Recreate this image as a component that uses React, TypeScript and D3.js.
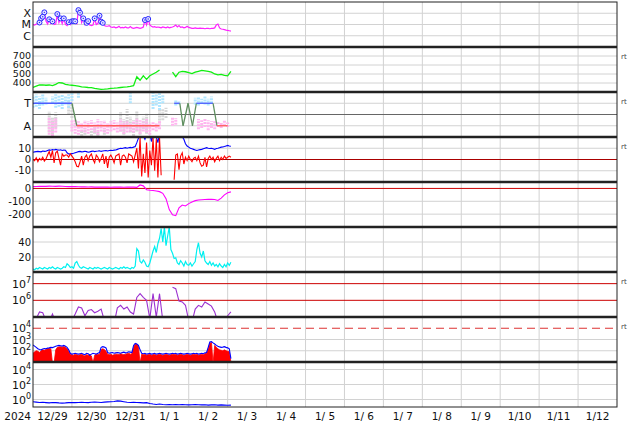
import React from "react";
import * as d3 from "d3";

// ---------- time axis ----------
const START = Date.UTC(2024, 11, 29);
const HOUR = 3600e3;
const NDAYS = 15;
const yearLabel = "2024";
const dayLabels = ["12/29", "12/30", "12/31", "1/ 1", "1/ 2", "1/ 3", "1/ 4", "1/ 5", "1/ 6", "1/ 7", "1/ 8", "1/ 9", "1/10", "1/11", "1/12"];

// ---------- panel 1: X-ray flux (hourly, W/m2) ----------
const xrayClassLabels = ["X", "M", "C"];
const xrayClassValues = [1e-4, 1e-5, 1e-6];
const xray = [
  1.0e-5, 9e-6, 1.1e-5, 1.2e-5, 1.5e-5, 3.5e-5, 4.9e-5, 1.2e-4, 2.0e-5, 1.1e-5, 2.9e-5, 1.2e-5,
  1.9e-5, 1.0e-5, 1.1e-5, 8.5e-5, 1.5e-5, 3.5e-5, 1.2e-5, 3.5e-5, 1.0e-5, 8e-6, 1.6e-5, 1.0e-5,
  1.9e-5, 2.0e-5, 1.9e-5, 1.2e-5, 1.9e-4, 1.1e-4, 1.5e-5, 3.5e-5, 1.0e-5, 1.4e-5, 2.0e-5, 9e-6,
  8e-6, 9e-6, 3.5e-5, 1.0e-5, 1.2e-5, 6e-5, 1.8e-5, 1.4e-5, 8e-6, 7e-6, 7e-6, 8e-6,
  6e-6, 5.5e-6, 6e-6, 5e-6, 5.5e-6, 7e-6, 5e-6, 5.5e-6, 5e-6, 6e-6, 5e-6, 5e-6, 6.5e-6, 5e-6,
  4.5e-6, 5e-6, 5.5e-6, 5e-6, 4.5e-6, 5e-6, 6e-6,
  2.5e-5, 9e-6, 3.1e-5, 9e-6,
  7e-6, 6e-6, 6.5e-6, 5.5e-6, 6e-6, 5.5e-6, 5e-6, 6e-6, 5.5e-6, 5e-6, 6e-6, 5e-6, 5.5e-6, 6e-6, 7e-6, 9e-6, 6e-6, 8e-6,
  5.5e-6, 6e-6, 5e-6, 5.5e-6, 7e-6, 5.5e-6, 5e-6, 4.5e-6, 4.5e-6, 5e-6, 4.5e-6, 4.5e-6, 4.8e-6, 4.5e-6, 4.5e-6, 4.2e-6,
  4.5e-6, 4.5e-6, 4.2e-6, 4.5e-6, 4.5e-6, 5e-6, 9e-6, 1.1e-5, 5e-6, 4e-6, 3.8e-6, 3.5e-6, 3.2e-6, 3e-6, 2.8e-6, 2.6e-6,
];
const flareHours = [4, 5, 6, 7, 10, 12, 15, 17, 19, 22, 24, 25, 26, 28, 29, 31, 33, 34, 38, 41, 42, 43, 69, 71];
const flareFlux = [1.5e-5, 3.5e-5, 4.9e-5, 1.2e-4, 2.9e-5, 1.9e-5, 8.5e-5, 3.5e-5, 3.5e-5, 1.6e-5, 1.9e-5, 2.0e-5, 1.9e-5, 1.9e-4, 1.1e-4, 3.5e-5, 1.4e-5, 2.0e-5, 3.5e-5, 6e-5, 1.8e-5, 1.4e-5, 2.5e-5, 3.1e-5];

// ---------- panel 2: solar wind speed (2-hourly, km/s) ----------
const speedTicks = [400, 500, 600, 700];
const speed = [
  352, 365, 378, 380, 375, 378, 372, 385, 405, 400, 385, 378, 375, 372, 365, 358, 355, 350, 348, 340,
  335, 330, 332, 335, 340, 342, 345, 350, 355, 358, 362, 370, 470, 430, 480, 440, 480, 500, 520, 545,
  null, null, null, 520, 470, 520, 530, 525, 515, 505, 520, 530, 540, 535, 530, 520, 500, 490, 495, 485, 480, 530,
];

// ---------- panel 3: IMF sector ----------
const sectorLabels = ["T", "A"];
const sectorValues = [1, -1];
// [hour, lo, hi]
const towardScatter = [
  [0, 0.6, 1.7], [2, 0.7, 1.8], [4, 0.5, 1.6], [6, 0.8, 1.8], [8, 0.9, 1.5], [12, 1.0, 1.6], [14, 0.6, 1.8],
  [16, 0.7, 1.7], [18, 0.5, 1.8], [20, 0.9, 1.7], [22, 0.6, 1.8], [24, 1.2, 1.9], [28, 1.5, 1.9], [60, 1.0, 1.9],
  [74, 0.5, 1.9], [76, 0.8, 1.8], [78, 0.4, 1.9], [80, 1.0, 1.8], [88, 0.8, 1.3], [90, 0.9, 1.2],
  [100, 0.9, 1.5], [102, 0.8, 1.6], [104, 1.0, 1.4], [106, 0.9, 1.7], [108, 0.8, 1.4], [110, 1.0, 1.6],
];
const awayScatter = [
  [10, -1.8, -0.2], [12, -1.9, -0.5], [14, -1.6, -0.3], [24, -1.5, -0.5], [26, -1.7, -0.4], [28, -1.8, -0.6],
  [30, -1.5, -0.7], [32, -1.6, -0.5], [34, -1.7, -0.6], [36, -1.4, -0.5], [38, -1.6, -0.7], [40, -1.8, -0.4],
  [42, -1.5, -0.6], [44, -1.6, -0.5], [46, -1.7, -0.8], [48, -1.5, -0.6], [50, -1.4, -0.5], [52, -1.6, -0.7],
  [54, -1.5, -0.4], [56, -1.7, -0.6], [58, -1.6, -0.5], [60, -1.5, -0.8], [62, -1.6, -0.6], [64, -1.4, -0.3],
  [66, -1.7, -0.5], [68, -1.5, -0.6], [70, -1.6, -0.4], [72, -1.8, -0.7], [74, -1.4, -0.6], [76, -1.5, -0.8],
  [78, -1.3, -0.6], [86, -1.0, -0.2], [88, -0.9, -0.3], [102, -1.3, -0.4], [104, -1.2, -0.5], [106, -1.1, -0.4],
  [108, -1.4, -0.5], [110, -1.2, -0.6], [112, -1.3, -0.5], [114, -1.1, -0.6], [116, -1.2, -0.7], [118, -1.0, -0.5],
  [120, -1.1, -0.7],
];
const mixedScatter = [
  [10, -1.6, 0.3], [12, -1.8, -0.2], [14, -1.2, 0.2], [22, 0.0, 1.2], [24, -0.3, 1.0], [30, -1.9, -1.4],
  [32, -1.8, -1.2], [36, -1.9, -1.3], [38, -1.7, -1.1], [40, -1.9, -1.5], [44, -1.8, -1.2], [54, -1.5, 0.2],
  [56, -1.8, -0.4], [58, -1.2, 0.5], [60, -1.6, -0.2], [62, -1.9, -0.5], [64, -1.5, 0.3], [66, -1.8, -0.9],
  [68, -1.3, -0.2], [70, -1.7, 0.1], [78, -0.8, 0.4], [80, -0.5, 0.5], [82, -0.3, 0.6],
];
const sectorLineA = [[0, 1], [24, 1], [27, -1], [78, -1]];
const sectorLineB = [[87, 1], [90.5, 1], [92.5, -1], [95.6, 1], [98.3, -1], [100.7, 1], [111, 1], [113.4, -1], [120, -1]];

// ---------- panel 4: IMF Bt / Bz (hourly, nT) ----------
const bTicks = [10, 0, -10];
const bt = [
  6.5, 6.8, 7, 7.2, 7, 6.8, 7.5, 7.2, 7.4,
  8, 8.5, 8.2, 8.8, 8.5, 9, 8.6, 8.3, 8.7, 8, 8.4, 8.2,
  6, 5, 4.8, 5.2, 5.5, 6, 6.5,
  7, 7.2, 6.8, 7, 7.3, 7, 6.5, 6.8, 7.2, 7.5, 7, 7.3, 7.5, 7.8, 7.2, 7.5, 7.8, 8, 7.6, 8, 8.2, 8, 8.3, 8.5,
  9, 9.5, 10, 9.8, 10.2, 10.5, 10, 10.4, 10.8, 10.5, 11, 11.5,
  15, 19, 22, 24, 21, 18, 22, 25, 24, 16, 22, 25, 20, 15, 24, 22,
  null, null, null, null, null, null, null,
  22, 24, 23, 21, 22, 20, 18,
  14, 12, 11, 10, 9.5, 9,
  8.5, 8, 8.4, 8.8, 9, 9.5, 10, 10.5, 10, 9.8,
  10, 9.5, 9, 9.8, 10, 10.5, 11, 11.2, 11.5, 12, 12.5, 12, 11.8,
];
const bz = [
  0, -1, 1.5, -2, 1, -0.5, 2, -1.5, 0.5,
  4, 7, 2, 8, -3, 6, 7.5, 1, -5, 5, 3, 4,
  4, 2, 5, 3, 1, -2, -6,
  -6.5, -2, 3, -5, 2, 4, -1, 3, 5, 0, -3, 4, 2, -2, 1, 5, -4, 3, -7.5, 2, 4, 1, -3, 3,
  4, 5, -5, 3, 4, 2, -3, 5, 4, 3, -2, 4,
  10, -8, 19, -15, 5, -12, 15, -16, 8, -5, 19, -10, 18, -16, 19, -14,
  null, null, null, null, null, null, null,
  -18, 4, 5, -9, 3, 6, -4,
  2, -1, 3, 0, -2, 1,
  2, -1, 3, -3, -6, -5, 2, -6.5, 1, 3,
  0, 2, -2, 1, 3, -1, 2, 0, 3, 1, 2, 3, 2,
];

// ---------- panel 5: Dst (2-hourly, nT) ----------
const dstTicks = [0, -100, -200];
const dst = [
  14, 15, 16, 17, 16, 18, 17, 16, 18, 17, 15, 14, 15, 14, 13, 12, 12, 11, 12, 10,
  11, 10, 11, 10, 9, 10, 11, 10, 9, 10, 11, 10, 8, 27, 20, -10, -14, -16, -20, -25,
  -38, -80, -165, -205, -212, -150, -129, -136, -118, -105, -95, -90, -88, -86, -85, -84,
  -86, -94, -75, -50, -33, -27,
];

// ---------- panel 6: proton density (hourly, /cc) ----------
const densTicks = [40, 20];
const dens = [
  4, 3, 5, 4, 6, 5, 4, 6, 5,
  4, 6, 5, 7, 5, 4, 6, 5, 4, 5, 7, 6,
  11, 9, 6, 7, 5, 12, 14,
  9, 6, 5, 7, 6, 5, 4, 6, 5, 4, 6, 5, 6, 5, 4, 5, 6, 5, 4, 6, 5, 4, 5, 6,
  5, 4, 6, 5, 7, 5, 6, 5, 4, 6, 5, 8,
  31, 28, 14, 12, 16, 13, 8, 7, 12, 20, 28, 34, 26, 38, 45, 58,
  40, 60, 35, 48, 60, 30, 25,
  18, 19, 12, 10, 15, 12, 8,
  14, 10, 9, 12, 8, 11,
  14, 30, 39, 25, 20, 28, 15, 12, 10, 14,
  9, 12, 8, 10, 7, 11, 8, 6, 10, 7, 12, 9, 13,
];

// ---------- panel 7: >2MeV electron flux (2-hourly) ----------
const electronTickExps = [7, 6];
const electronLines = [1e7, 1e6];
const electron = [
  5e4, 8e4, 2e5, 1.8e5, 6e4, 5e4, 1.5e5, 5e4, 4e4, 4e4, 4e4, 5e4, 6e4, 1.5e5, 4e5, 3.5e5, 1.2e5, 2.5e5, 2.8e5, 1.8e5,
  2.2e5, 3e5, 6e4, 5e4, 5e4, 4e4, 3.5e5, 5e5, 3e5, 4e5, 2e5, 1.5e5, 1.5e6, 2.5e6, 1.5e6, 1e6, 8e4, 2.5e6, 1e5, 2.5e6,
  6e4, null, null, 6e6, 5e6, 9e5, 8e5, 5e5, 6e4, 5e4, 3e5, 5e5, 4e5, 8e5, 6e5, 4.5e5, 2e5, 5e4, 4e4, 4e4, 1.2e5, 2e5,
];

// ---------- panel 8: particle flux (hourly) ----------
const p8TickExps = [4, 3, 2];
const p8Threshold = 1e4;
const p8Blue = [
  320, 260, 200, 150, 130, 120, 140, 160, 150,
  170, 180, 200, 190, 220, 250, 280, 300, 280, 260, 300, 250,
  200, 120, 60, 50, 55, 60, 55,
  50, 55, 60, 50, 45, 60, 55, 40, 50, 60, 55, 50, 60, 70, 200, 230, 210, 180, 70, 60, 65, 70, 60, 65,
  70, 65, 60, 70, 75, 65, 70, 80, 75, 70, 300, 450,
  400, 300, 120, 60, 55, 60, 50, 55, 60, 50, 55, 60, 50, 55, 60, 55,
  50, 55, 60, 55, 50, 55, 60,
  55, 60, 50, 55, 60, 55, 50,
  55, 60, 55, 50, 55, 60,
  55, 60, 50, 55, 60, 55, 65, 70, 200, 600,
  650, 500, 400, 300, 250, 220, 200, 210, 230, 200, 180, 150, 20,
];
const p8Red = [
  60, 80, 100, 90, 70, 100, 120, 110, 130,
  150, 160, 150, 8, 8, 120, 200, 220, 230, 210, 240, 200,
  150, 90, 50, 45, 40, 50, 45,
  40, 45, 50, 40, 35, 45, 40, 45, 35, 8, 40, 50, 45, 50, 120, 150, 130, 90, 50, 45, 50, 40, 45, 50,
  50, 45, 55, 50, 45, 50, 55, 60, 50, 55, 200, 380,
  400, 250, 8, 50, 45, 50, 40, 45, 50, 40, 45, 50, 40, 45, 50, 45,
  40, 45, 50, 45, 40, 45, 50,
  45, 50, 40, 45, 50, 45, 40,
  45, 50, 45, 40, 45, 50,
  45, 50, 40, 45, 50, 45, 55, 60, 150, 450,
  550, 8, 300, 200, 150, 120, 110, 100, 120, 100, 90, 80, 10,
];

// ---------- panel 9: proton flux (2-hourly) ----------
const p9TickExps = [4, 2, 0];
const p9 = [
  0.5, 0.45, 0.4, 0.42, 0.38, 0.35, 0.4, 0.38, 0.35, 0.33, 0.35, 0.38, 0.4, 0.38, 0.4,
  0.42, 0.4, 0.38, 0.42, 0.45, 0.42, 0.4, 0.45, 0.48, 0.5, 0.55, 0.65, 0.6, 0.5, 0.42,
  0.4, 0.42, 0.4, 0.38, 0.35, 0.38, 0.3,
  0.25, 0.22, 0.25, 0.22, 0.2, 0.22, 0.2, 0.21, 0.2, 0.22, 0.2, 0.19, 0.2, 0.21, 0.2, 0.19, 0.2, 0.18, 0.19, 0.2, 0.18, 0.19, 0.18, 0.17, 0.18,
];

const rtPanels = [1, 2, 3, 6, 7];

// ---------- layout ----------
const L = 33, R = 617, TOP = 2, PH = 45;
const pTop = (i: number) => TOP + i * PH;
const FONT = "DejaVu Sans";

const tAt = (h: number) => new Date(START + h * HOUR);
const x = d3.scaleUtc().domain([tAt(0), tAt(NDAYS * 24)]).range([L, R]);
const series = (arr: (number | null)[], step: number) => arr.map((v, i) => ({ t: tAt(i * step), v }));

const y1 = d3.scaleLog().domain([1e-7, 1e-3]).range([pTop(1), pTop(0)]);
const y2 = d3.scaleLinear().domain([300, 800]).range([pTop(2), pTop(1)]);
const y3 = d3.scaleLinear().domain([-2, 2]).range([pTop(3), pTop(2)]);
const y4 = d3.scaleLinear().domain([-20, 20]).range([pTop(4), pTop(3)]);
const y5 = d3.scaleLinear().domain([-300, 50]).range([pTop(5), pTop(4)]);
const y6 = d3.scaleLinear().domain([0, 60]).range([pTop(6), pTop(5)]);
const y7 = d3.scaleLog().domain([1e5, 5e7]).range([pTop(7), pTop(6)]);
const y8 = d3.scaleLog().domain([10, 1e5]).range([pTop(8), pTop(7)]);
const y9 = d3.scaleLog().domain([0.1, 1e5]).range([pTop(9), pTop(8)]);

function mkLine(ys: any) {
  return d3.line<any>().defined((d) => d.v != null).x((d) => x(d.t)).y((d) => ys(d.v));
}

function Pow({ y, e }: { y: number; e: number }) {
  return (
    <text x={31} y={y + 4} textAnchor="end" fontSize={11} fill="#111">
      10<tspan fontSize={8} dy={-5}>{e}</tspan>
    </text>
  );
}
function Lab({ y, s, size = 10 }: { y: number; s: string | number; size?: number }) {
  return (
    <text x={31} y={y + size * 0.36} textAnchor="end" fontSize={size} fill="#111">{s}</text>
  );
}

export default function App() {
  const days = d3.range(NDAYS + 1).map((d) => tAt(d * 24));
  const grid = "#d2d2d2";
  const hLine = (y: number, key: string, color = grid, dash?: string, w = 1) => (
    <line key={key} x1={L} x2={R} y1={y} y2={y} stroke={color} strokeWidth={w} strokeDasharray={dash} />
  );

  const clipIds = d3.range(9).map((i) => `clip${i}`);
  const sectorSegs: any[] = [];
  [sectorLineA, sectorLineB].forEach((ln, k) => {
    for (let i = 0; i < ln.length - 1; i++) {
      const a = ln[i], b = ln[i + 1];
      const col = a[1] === b[1] ? (a[1] > 0 ? "#4a5cff" : "#ff5a5a") : "#5f8f5f";
      sectorSegs.push(
        <line key={`s${k}-${i}`} x1={x(tAt(a[0]))} x2={x(tAt(b[0]))} y1={y3(a[1])} y2={y3(b[1])} stroke={col} strokeWidth={1.3} />
      );
    }
  });
  const scatter = (arr: number[][], color: string, key: string) =>
    arr.map((d, i) => (
      <line key={`${key}${i}`} x1={x(tAt(d[0]))} x2={x(tAt(d[0]))} y1={y3(d[1])} y2={y3(d[2])}
        stroke={color} strokeWidth={3} strokeDasharray="2 1" />
    ));

  const redArea = d3.area<any>().x((d) => x(d.t)).y0(pTop(8)).y1((d) => y8(d.v));

  return (
    <svg width={634} height={424} style={{ position: "absolute", left: 0, top: 0, background: "#fff" }} fontFamily={FONT}>
      <defs>
        {clipIds.map((id, i) => (
          <clipPath key={id} id={id}>
            <rect x={L} y={pTop(i)} width={R - L} height={PH} />
          </clipPath>
        ))}
      </defs>
      <rect x={0} y={0} width={634} height={424} fill="#fff" />

      {/* vertical grid */}
      {days.slice(1, -1).map((d, i) => (
        <line key={`vg${i}`} x1={x(d)} x2={x(d)} y1={TOP} y2={pTop(9)} stroke={grid} strokeWidth={1} />
      ))}

      {/* horizontal grid */}
      {xrayClassValues.map((v, i) => hLine(y1(v), `g1${i}`))}
      {speedTicks.map((v, i) => hLine(y2(v), `g2${i}`))}
      {sectorValues.map((v, i) => hLine(y3(v), `g3${i}`))}
      {bTicks.filter((v) => v !== 0).map((v, i) => hLine(y4(v), `g4${i}`))}
      {dstTicks.filter((v) => v !== 0).map((v, i) => hLine(y5(v), `g5${i}`))}
      {densTicks.map((v, i) => hLine(y6(v), `g6${i}`))}
      {p8TickExps.filter((e) => e !== 4).map((e, i) => hLine(y8(Math.pow(10, e)), `g8${i}`))}
      {p9TickExps.map((e, i) => hLine(y9(Math.pow(10, e)), `g9${i}`))}

      {/* panel 1 */}
      <g clipPath="url(#clip0)">
        <path d={mkLine(y1)(series(xray, 1)) || ""} fill="none" stroke="#ff22ff" strokeWidth={1.2} />
        {flareHours.map((h, i) => (
          <g key={`f${i}`}>
            <circle cx={x(tAt(h))} cy={y1(flareFlux[i])} r={2.5} fill="#e4e4ff" stroke="#2a2aff" strokeWidth={1} />
            <circle cx={x(tAt(h))} cy={y1(flareFlux[i])} r={0.7} fill="#2a2aff" />
          </g>
        ))}
      </g>

      {/* panel 2 */}
      <g clipPath="url(#clip1)">
        <path d={mkLine(y2)(series(speed, 2)) || ""} fill="none" stroke="#11ee11" strokeWidth={1.3} />
      </g>

      {/* panel 3 */}
      <g clipPath="url(#clip2)">
        {scatter(mixedScatter, "#d6d6d6", "m")}
        {scatter(awayScatter, "#ffb6ef", "a")}
        {scatter(towardScatter, "#b0e6ff", "t")}
        <line x1={L} x2={R} y1={y3(0)} y2={y3(0)} stroke="#666" strokeWidth={1} />
        {sectorSegs}
      </g>

      {/* panel 4 */}
      <g clipPath="url(#clip3)">
        <line x1={L} x2={R} y1={y4(0)} y2={y4(0)} stroke="#aa0000" strokeWidth={1} />
        <path d={mkLine(y4)(series(bt, 1)) || ""} fill="none" stroke="#0000ff" strokeWidth={1.1} />
        <path d={mkLine(y4)(series(bz, 1)) || ""} fill="none" stroke="#ff0000" strokeWidth={1.1} />
      </g>

      {/* panel 5 */}
      <g clipPath="url(#clip4)">
        <line x1={L} x2={R} y1={y5(0)} y2={y5(0)} stroke="#cc0000" strokeWidth={1} />
        <path d={mkLine(y5)(series(dst, 2)) || ""} fill="none" stroke="#ff00ff" strokeWidth={1.1} />
      </g>

      {/* panel 6 */}
      <g clipPath="url(#clip5)">
        <path d={mkLine(y6)(series(dens, 1)) || ""} fill="none" stroke="#00f0f0" strokeWidth={1.2} />
      </g>

      {/* panel 7 */}
      <g clipPath="url(#clip6)">
        {electronLines.map((v, i) => hLine(y7(v), `e${i}`, "#cc0000"))}
        <path d={mkLine(y7)(series(electron, 2)) || ""} fill="none" stroke="#9b30d0" strokeWidth={1.1} />
      </g>

      {/* panel 8 */}
      <g clipPath="url(#clip7)">
        {hLine(y8(p8Threshold), "thr", "#dd3333", "8 5", 1.2)}
        <path d={redArea(series(p8Red, 1)) || ""} fill="#ff0000" stroke="#ff0000" strokeWidth={0.8} />
        <path d={mkLine(y8)(series(p8Blue, 1)) || ""} fill="none" stroke="#0000ff" strokeWidth={1.1} />
      </g>

      {/* panel 9 */}
      <g clipPath="url(#clip8)">
        <path d={mkLine(y9)(series(p9, 2)) || ""} fill="none" stroke="#0000ff" strokeWidth={1.1} />
      </g>

      {/* separators and frame */}
      {d3.range(1, 9).map((i) => (
        <line key={`sep${i}`} x1={L} x2={R} y1={pTop(i)} y2={pTop(i)} stroke="#222" strokeWidth={2.5} />
      ))}
      <rect x={L} y={TOP} width={R - L} height={PH * 9} fill="none" stroke="#222" strokeWidth={1} />

      {/* y labels */}
      {xrayClassLabels.map((s, i) => <Lab key={`l1${i}`} y={y1(xrayClassValues[i])} s={s} size={11} />)}
      {speedTicks.map((v, i) => <Lab key={`l2${i}`} y={y2(v)} s={v} size={9.5} />)}
      {sectorLabels.map((s, i) => <Lab key={`l3${i}`} y={y3(sectorValues[i])} s={s} size={11} />)}
      {bTicks.map((v, i) => <Lab key={`l4${i}`} y={y4(v)} s={v} />)}
      {dstTicks.map((v, i) => <Lab key={`l5${i}`} y={y5(v)} s={v} />)}
      {densTicks.map((v, i) => <Lab key={`l6${i}`} y={y6(v)} s={v} />)}
      {electronTickExps.map((e, i) => <Pow key={`l7${i}`} y={y7(Math.pow(10, e))} e={e} />)}
      {p8TickExps.map((e, i) => <Pow key={`l8${i}`} y={y8(Math.pow(10, e))} e={e} />)}
      {p9TickExps.map((e, i) => <Pow key={`l9${i}`} y={y9(Math.pow(10, e))} e={e} />)}

      {/* rt markers */}
      {rtPanels.map((p) => (
        <text key={`rt${p}`} x={621} y={pTop(p) + 12} fontSize={7} fill="#444">rt</text>
      ))}

      {/* x labels */}
      <text x={31} y={420} textAnchor="end" fontSize={10.5} fill="#111">{yearLabel}</text>
      {dayLabels.map((s, i) => (
        <text key={`d${i}`} x={x(tAt(i * 24 + 12))} y={420} textAnchor="middle" fontSize={10.5} fill="#111">{s}</text>
      ))}
    </svg>
  );
}
